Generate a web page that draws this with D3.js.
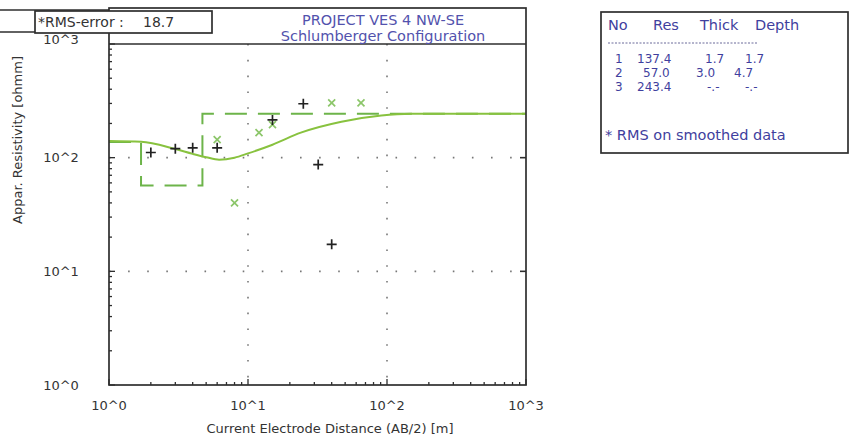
<!DOCTYPE html>
<html><head><meta charset="utf-8">
<script src="https://cdn.jsdelivr.net/npm/d3@7"></script>
<style>body{margin:0;background:#fff}svg{display:block}text{font-family:"DejaVu Sans",Verdana,sans-serif}</style>
</head><body><svg id="c" width="853" height="442"></svg>
<script>
// ---- data ----
const decadeTicks = [1, 10, 100, 1000];
const decadeLabels = ["10^0", "10^1", "10^2", "10^3"];
const gridValues = [10, 100];
// observed field data (black +)
const obsX = [2, 3, 4, 6, 15, 25, 32, 40];
const obsY = [111, 120, 122, 122, 215, 298, 87, 17.3];
// smoothed data (green x)
const smX = [6, 8, 12, 15, 40, 65];
const smY = [144, 40, 166, 195, 304, 304];
// calculated model curve (solid green)
const calcX = [1, 1.7, 3, 4, 5, 6.2, 8, 10, 15, 24, 47, 91, 150, 1000];
const calcY = [140, 138, 119, 108, 101, 96, 100, 109, 130, 166, 207, 235, 243, 243];
// layer model
const layerNo = ["1", "2", "3"];
const layerRes = ["137.4", "57.0", "243.4"];
const layerThick = ["1.7", "3.0", "-.-"];
const layerDepth = ["1.7", "4.7", "-.-"];
const resVals = [137.4, 57.0, 243.4];
const depthVals = [1.7, 4.7];
const tableHeader = ["No", "Res", "Thick", "Depth"];
const rmsLabel = "*RMS-error :";
const rmsValue = "18.7";
const titleLines = ["PROJECT VES 4 NW-SE", "Schlumberger Configuration"];
const xTitle = "Current Electrode Distance (AB/2) [m]";
const yTitle = "Appar. Resistivity [ohmm]";
const noteText = "* RMS on smoothed data";

// ---- layout ----
const svg = d3.select("#c");
const L = 109, R = 526, T = 44, B = 385;
const x = d3.scaleLog().domain([1, 1000]).range([L, R]);
const y = d3.scaleLog().domain([1, 1000]).range([B, T]);
const frame = "#2e2e2e";
const txt = "#333";

// grid
svg.append("g").selectAll("line").data(gridValues).join("line")
  .attr("x1", d => x(d)).attr("x2", d => x(d)).attr("y1", T).attr("y2", B)
  .attr("stroke", "#777").attr("stroke-width", 1.6).attr("stroke-dasharray", "1.6,14.2");
svg.append("g").selectAll("line").data(gridValues).join("line")
  .attr("y1", d => y(d)).attr("y2", d => y(d)).attr("x1", L).attr("x2", R)
  .attr("stroke", "#777").attr("stroke-width", 1.6).attr("stroke-dasharray", "1.6,17.5");

// minor/major ticks
const isMajor = d => Math.abs(Math.log10(d) - Math.round(Math.log10(d))) < 1e-9;
svg.append("g").selectAll("line").data(x.ticks()).join("line")
  .attr("x1", d => x(d)).attr("x2", d => x(d)).attr("y1", B).attr("y2", d => B - (isMajor(d) ? 6 : 3))
  .attr("stroke", frame).attr("stroke-width", 1.3);
svg.append("g").selectAll("line").data(y.ticks()).join("line")
  .attr("y1", d => y(d)).attr("y2", d => y(d)).attr("x1", L).attr("x2", d => L + (isMajor(d) ? 6 : 3))
  .attr("stroke", frame).attr("stroke-width", 1.3);
svg.append("g").selectAll("line").data(gridValues).join("line")
  .attr("y1", d => y(d)).attr("y2", d => y(d)).attr("x1", R).attr("x2", R - 6)
  .attr("stroke", frame).attr("stroke-width", 1.6);

// model (dashed step)
const stepPts = [[1, resVals[0]]].concat(depthVals.map((d, i) => [d, resVals[i + 1]])).concat([[1000, resVals[2]]]);
svg.append("path").datum(stepPts)
  .attr("d", d3.line().x(d => x(d[0])).y(d => y(d[1])).curve(d3.curveStepAfter))
  .attr("fill", "none").attr("stroke", "#6db44a").attr("stroke-width", 2).attr("stroke-dasharray", "22,11");

// calculated curve
svg.append("path").datum(calcX.map((v, i) => [v, calcY[i]]))
  .attr("d", d3.line().x(d => x(d[0])).y(d => y(d[1])).curve(d3.curveMonotoneX))
  .attr("fill", "none").attr("stroke", "#88c23f").attr("stroke-width", 2);

// smoothed data x markers
svg.append("g").selectAll("path").data(smX.map((v, i) => [v, smY[i]])).join("path")
  .attr("transform", d => `translate(${x(d[0])},${y(d[1])})`)
  .attr("d", "M-3.5,-3.5L3.5,3.5M-3.5,3.5L3.5,-3.5")
  .attr("stroke", "#8cc66a").attr("stroke-width", 1.7).attr("fill", "none");
// observed + markers
svg.append("g").selectAll("path").data(obsX.map((v, i) => [v, obsY[i]])).join("path")
  .attr("transform", d => `translate(${x(d[0])},${y(d[1])})`)
  .attr("d", "M-5,0H5M0,-5V5")
  .attr("stroke", "#222").attr("stroke-width", 1.7).attr("fill", "none");

// frame + title box
svg.append("rect").attr("x", L).attr("y", 8).attr("width", R - L).attr("height", B - 8)
  .attr("fill", "none").attr("stroke", frame).attr("stroke-width", 1.7);
svg.append("line").attr("x1", L).attr("x2", R).attr("y1", T).attr("y2", T).attr("stroke", frame).attr("stroke-width", 1.7);
svg.append("g").selectAll("text").data(titleLines).join("text")
  .attr("x", 383).attr("y", (d, i) => 25 + i * 15.5).attr("text-anchor", "middle")
  .attr("font-size", 14.5).attr("fill", "#5252ad").text(d => d);

// axis labels
svg.append("g").selectAll("text").data(decadeTicks).join("text")
  .attr("x", d => x(d)).attr("y", 410).attr("text-anchor", "middle")
  .attr("font-size", 13).attr("fill", txt).text((d, i) => decadeLabels[i]);
svg.append("g").selectAll("text").data(decadeTicks).join("text")
  .attr("x", 61).attr("y", d => y(d) + (d === 1000 ? 0 : 4.5)).attr("text-anchor", "middle")
  .attr("font-size", 13).attr("fill", txt).text((d, i) => decadeLabels[i]);
svg.append("text").attr("x", 330).attr("y", 433).attr("text-anchor", "middle")
  .attr("font-size", 13).attr("fill", txt).text(xTitle);
svg.append("text").attr("transform", "translate(22,140) rotate(-90)").attr("text-anchor", "middle")
  .attr("font-size", 13).attr("fill", txt).text(yTitle);

// outer fragment lines and RMS box
svg.append("line").attr("x1", 0).attr("x2", L).attr("y1", 10).attr("y2", 10).attr("stroke", frame).attr("stroke-width", 1.7);
svg.append("line").attr("x1", 0).attr("x2", 35).attr("y1", 32).attr("y2", 32).attr("stroke", frame).attr("stroke-width", 1.7);
svg.append("rect").attr("x", 35).attr("y", 11).attr("width", 177).attr("height", 22)
  .attr("fill", "#fff").attr("stroke", frame).attr("stroke-width", 1.7);
svg.append("text").attr("x", 38).attr("y", 27).attr("font-size", 14).attr("fill", txt).text(rmsLabel);
svg.append("text").attr("x", 143).attr("y", 27).attr("font-size", 14).attr("fill", txt).text(rmsValue);

// table box
const tb = svg.append("g");
tb.append("rect").attr("x", 601).attr("y", 12).attr("width", 247).attr("height", 141)
  .attr("fill", "#fff").attr("stroke", frame).attr("stroke-width", 1.7);
const tc = "#3f3f9e";
const headX = [608, 653, 700, 755];
tb.selectAll("text.h").data(tableHeader).join("text").attr("class", "h")
  .attr("x", (d, i) => headX[i]).attr("y", 30).attr("font-size", 14.5).attr("fill", tc).text(d => d);
tb.append("line").attr("x1", 608).attr("x2", 757).attr("y1", 43).attr("y2", 43)
  .attr("stroke", "#6a6a9a").attr("stroke-width", 1).attr("stroke-dasharray", "2,1.5");
const rowX = [[615, 637, 705, 745], [615, 643, 696, 734], [615, 637, 707, 745]];
const rows = layerNo.map((n, i) => [n, layerRes[i], layerThick[i], layerDepth[i]]);
rows.forEach((r, ri) => {
  tb.append("g").selectAll("text").data(r).join("text")
    .attr("x", (d, i) => rowX[ri][i]).attr("y", 63 + ri * 14)
    .attr("font-size", 12).attr("fill", tc).text(d => d);
});
tb.append("text").attr("x", 605).attr("y", 140).attr("font-size", 14.5).attr("fill", tc).text(noteText);
</script></body></html>
